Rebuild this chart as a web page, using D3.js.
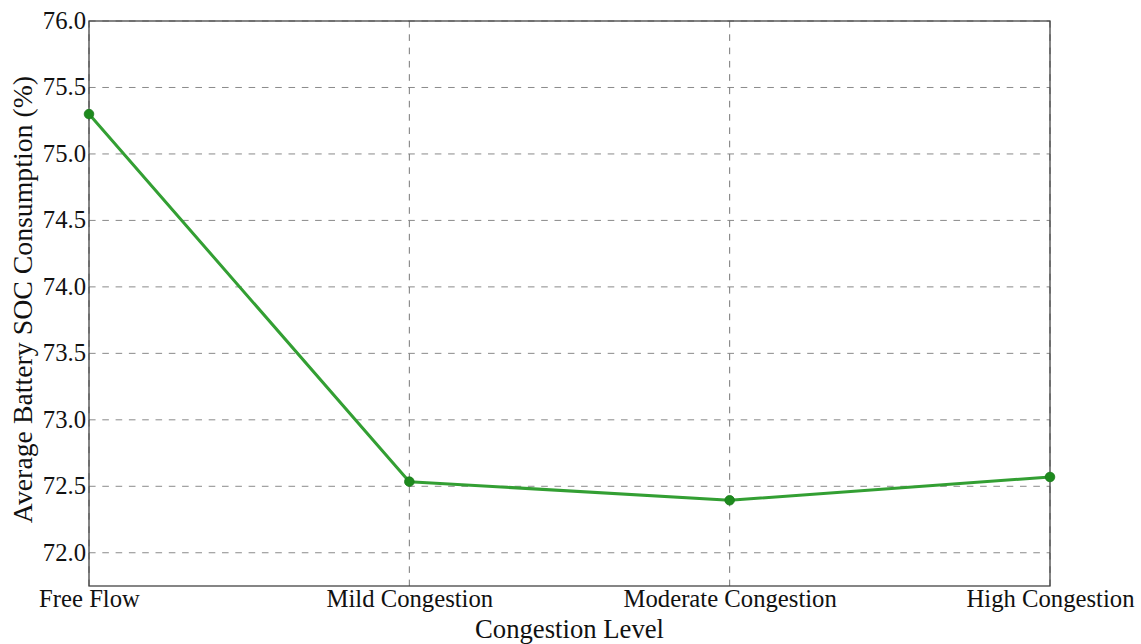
<!DOCTYPE html>
<html>
<head>
<meta charset="utf-8">
<script src="https://cdn.jsdelivr.net/npm/d3@7"></script>
<style>
  html, body { margin: 0; padding: 0; background: #fff; }
</style>
</head>
<body>
<svg id="chart" width="1141" height="644"></svg>
<script>
// Congestion levels and the average battery SOC used at each
const categories = ["Free Flow", "Mild Congestion", "Moderate Congestion", "High Congestion"];
const socValues = [75.30, 72.535, 72.395, 72.57];
const yTicks = [72.0, 72.5, 73.0, 73.5, 74.0, 74.5, 75.0, 75.5, 76.0];
const yDomain = [71.75, 76.0];

const FONT = '"Liberation Serif"';

const svg = d3.select("#chart");
const margin = { left: 89, right: 91, top: 21, bottom: 58 };
const W = 1141, H = 644;
const innerW = W - margin.left - margin.right;
const innerH = H - margin.top - margin.bottom;

const g = svg.append("g").attr("transform", `translate(${margin.left},${margin.top})`);

const x = d3.scalePoint().domain(categories).range([0, innerW]);
const y = d3.scaleLinear().domain(yDomain).range([innerH, 0]);

// Dashed grid
g.append("g").selectAll("line").data(yTicks).join("line")
  .attr("x1", 0).attr("x2", innerW)
  .attr("y1", d => y(d)).attr("y2", d => y(d))
  .attr("stroke", "#8a8a8a").attr("stroke-width", 1).attr("stroke-dasharray", "6.6,6.7");
g.append("g").selectAll("line").data(categories).join("line")
  .attr("x1", d => x(d)).attr("x2", d => x(d))
  .attr("y1", 0).attr("y2", innerH)
  .attr("stroke", "#777").attr("stroke-width", 1).attr("stroke-dasharray", "6.6,6.7");

// Axes
const xAxis = g.append("g").attr("transform", `translate(0,${innerH})`)
  .call(d3.axisBottom(x).tickSize(0).tickPadding(4));
const yAxis = g.append("g")
  .call(d3.axisLeft(y).tickValues(yTicks).tickFormat(d3.format(".1f")).tickSize(0).tickPadding(3));
[xAxis, yAxis].forEach(a => {
  a.attr("font-family", null).attr("font-size", null);
  a.select(".domain").remove();
  a.selectAll("text").style("font-family", FONT).style("font-size", "24.7px").style("fill", "#111");
});
yAxis.selectAll("text").attr("dy", "0.3em");
xAxis.selectAll("text").attr("dy", "0.7em");

// Frame
g.append("rect").attr("x", 0).attr("y", 0).attr("width", innerW).attr("height", innerH)
  .attr("fill", "none").attr("stroke", "#444").attr("stroke-width", 1.3);

// Line and markers
const line = d3.line().x((d, i) => x(categories[i])).y(d => y(d));
g.append("path").datum(socValues)
  .attr("d", line).attr("fill", "none")
  .attr("stroke", "#339f33").attr("stroke-width", 3).attr("stroke-linejoin", "round");
g.append("g").selectAll("circle").data(socValues).join("circle")
  .attr("cx", (d, i) => x(categories[i])).attr("cy", d => y(d)).attr("r", 4.8)
  .attr("fill", "#1d8a1d").attr("stroke", "#1a7a1a").attr("stroke-width", 0.8);

// Axis titles
svg.append("text").attr("x", margin.left + innerW / 2).attr("y", 637.5)
  .attr("text-anchor", "middle")
  .style("font-family", FONT).style("font-size", "26.7px").style("fill", "#111")
  .text("Congestion Level");
svg.append("text")
  .attr("transform", `translate(32,${margin.top + innerH / 2 - 4}) rotate(-90)`)
  .attr("text-anchor", "middle")
  .style("font-family", FONT).style("font-size", "27.8px").style("fill", "#111")
  .text("Average Battery SOC Consumption (%)");
</script>
</body>
</html>
